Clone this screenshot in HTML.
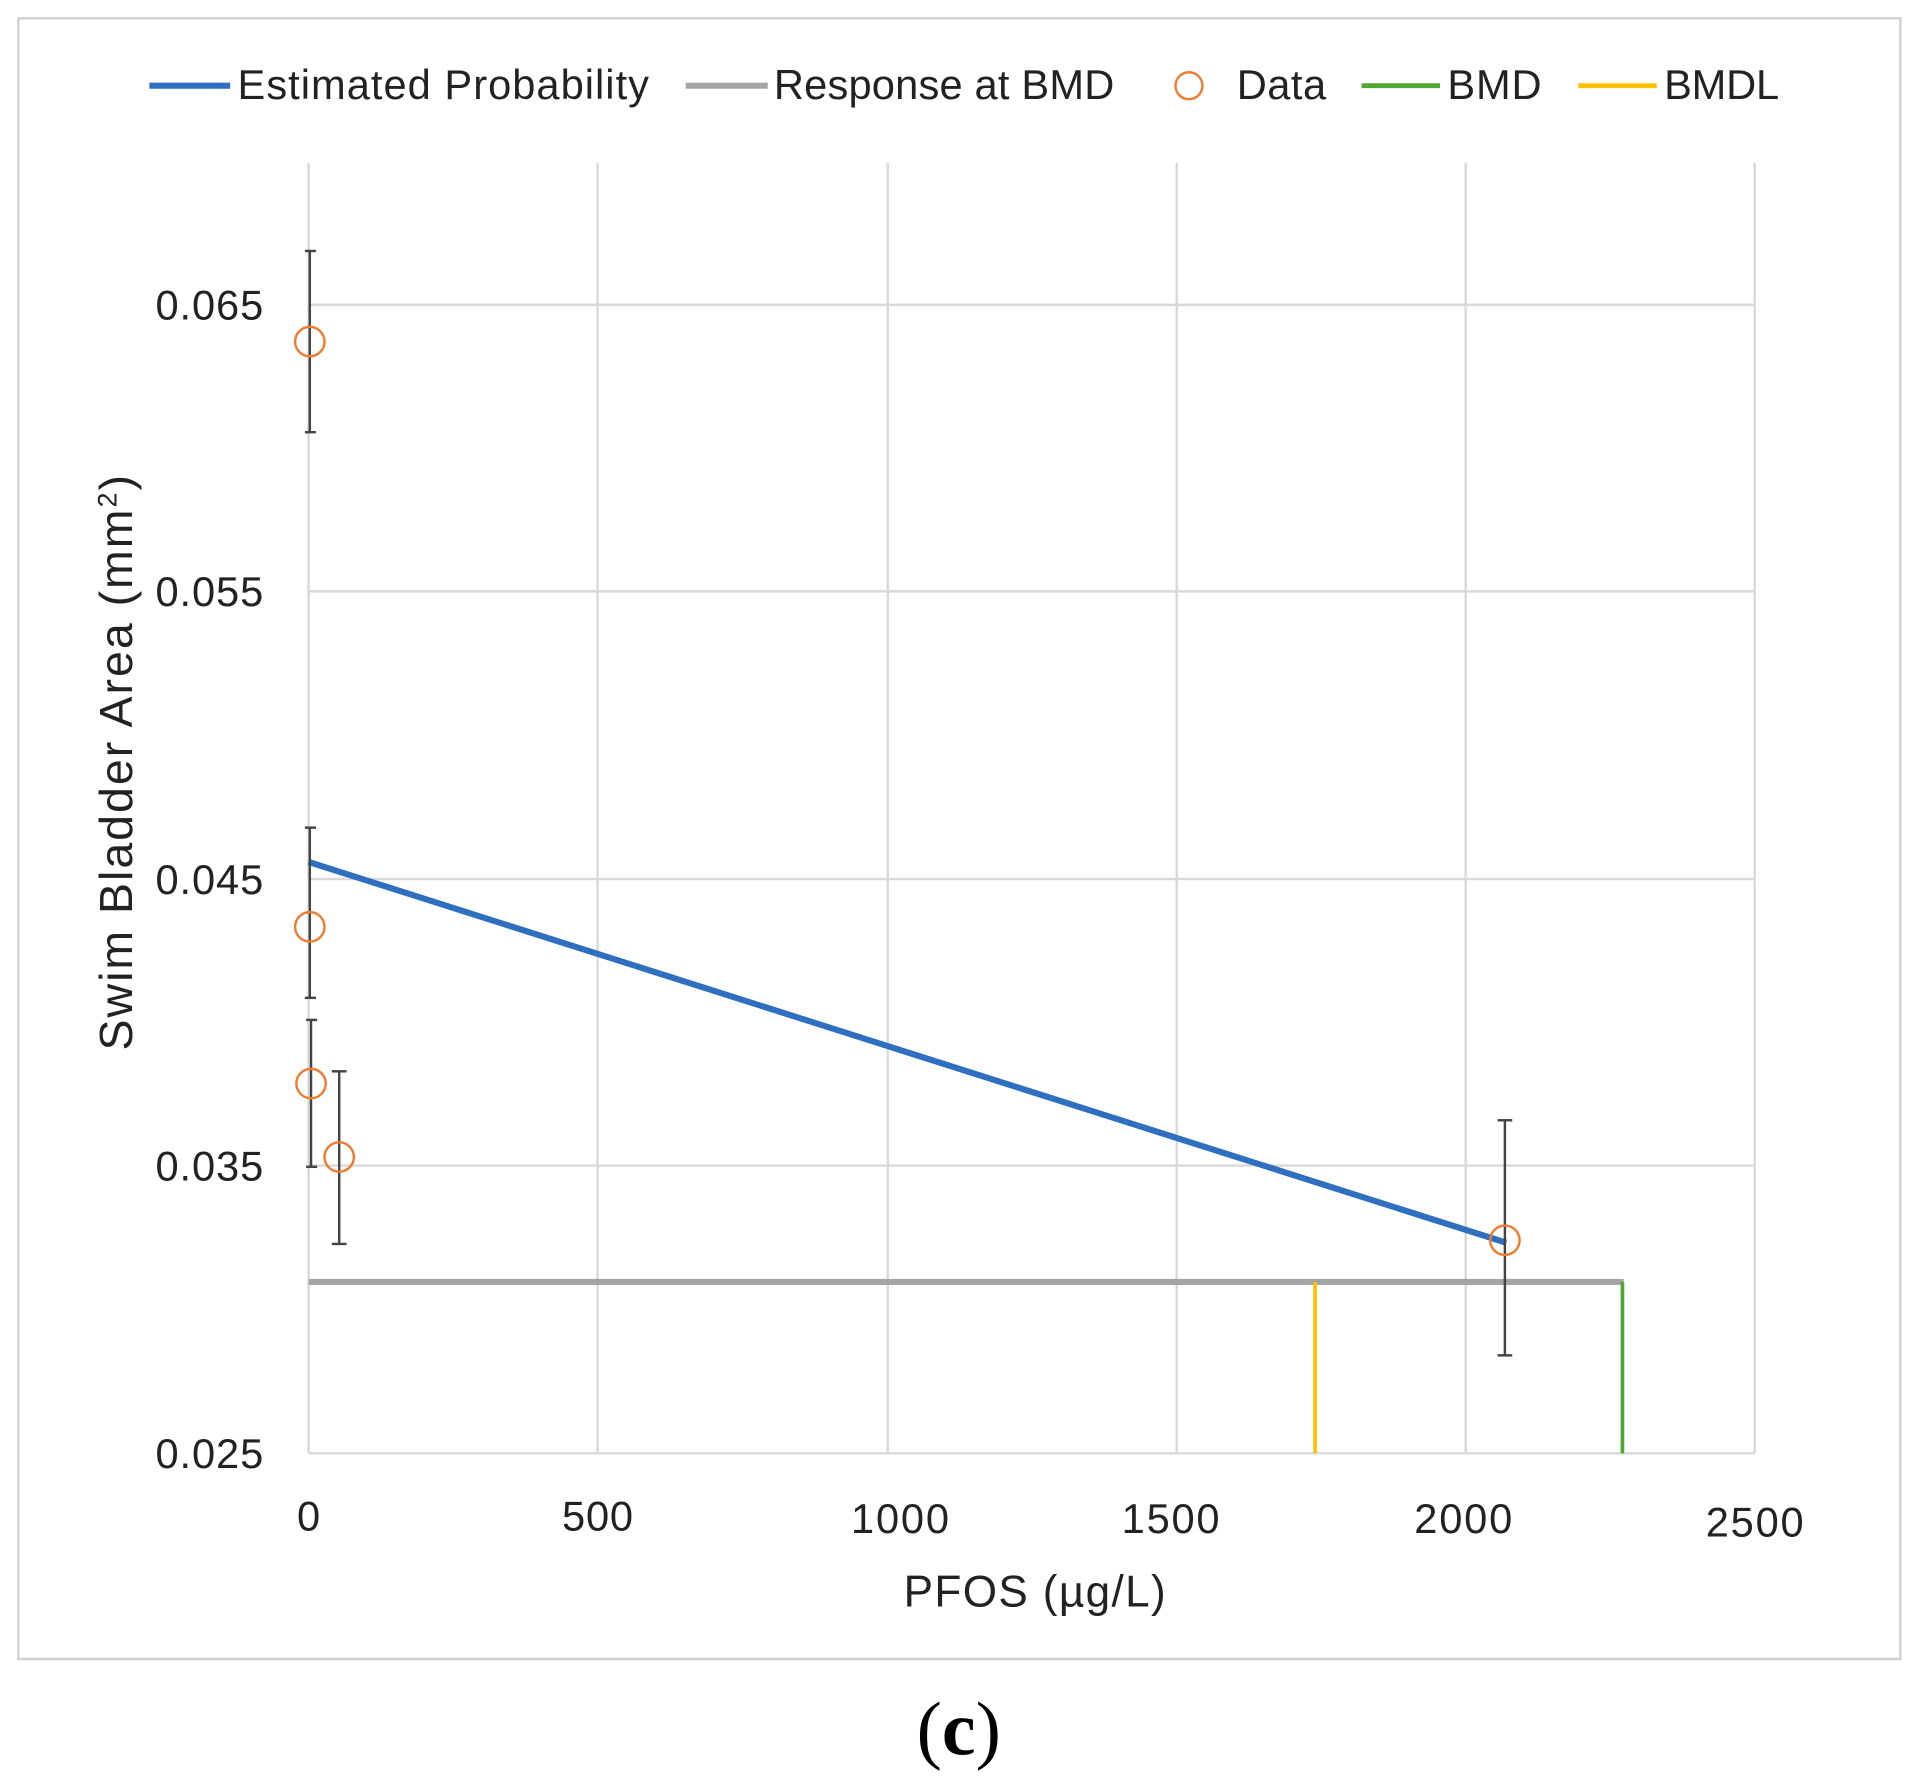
<!DOCTYPE html>
<html><head><meta charset="utf-8"><style>html,body{margin:0;padding:0;background:#fff}svg{display:block}</style></head>
<body>
<svg width="1920" height="1790" viewBox="0 0 1568 1462" preserveAspectRatio="none" xmlns="http://www.w3.org/2000/svg" font-family="Liberation Sans, DejaVu Sans, sans-serif">
<rect x="15" y="15" width="1537" height="1340" fill="#fff" stroke="#d0d0d0" stroke-width="2"/>
<g stroke="#d9d9d9" stroke-width="2">
<line x1="252" y1="249" x2="1433" y2="249"/>
<line x1="252" y1="483" x2="1433" y2="483"/>
<line x1="252" y1="718" x2="1433" y2="718"/>
<line x1="252" y1="952" x2="1433" y2="952"/>
<line x1="252" y1="1187" x2="1433" y2="1187"/>
<line x1="252" y1="133" x2="252" y2="1187"/>
<line x1="488" y1="133" x2="488" y2="1187"/>
<line x1="725" y1="133" x2="725" y2="1187"/>
<line x1="961" y1="133" x2="961" y2="1187"/>
<line x1="1197" y1="133" x2="1197" y2="1187"/>
<line x1="1433" y1="133" x2="1433" y2="1187"/>
</g>
<g font-size="34" fill="#222" text-anchor="end">
<text x="215" y="261" textLength="88">0.065</text>
<text x="215" y="495" textLength="88">0.055</text>
<text x="215" y="730" textLength="88">0.045</text>
<text x="215" y="964" textLength="88">0.035</text>
<text x="215" y="1199" textLength="88">0.025</text>
</g>
<g font-size="34" fill="#222" text-anchor="middle">
<text x="252" y="1250">0</text>
<text x="488" y="1250" textLength="58">500</text>
<text x="735" y="1252" textLength="80">1000</text>
<text x="956" y="1252" textLength="80">1500</text>
<text x="1195" y="1252" textLength="80">2000</text>
<text x="1433" y="1255" textLength="80">2500</text>
<text x="845" y="1312" font-size="36" textLength="214">PFOS (µg/L)</text>
</g>
<text transform="translate(108,623) rotate(-90)" font-size="38" fill="#222" text-anchor="middle" textLength="470">Swim Bladder Area (mm<tspan font-size="22" dy="-13">2</tspan><tspan dy="13">)</tspan></text>
<line x1="252" y1="1047" x2="1326" y2="1047" stroke="#a5a5a5" stroke-width="5"/>
<line x1="1074" y1="1047" x2="1074" y2="1187" stroke="#ffc000" stroke-width="3"/>
<line x1="1325" y1="1047" x2="1325" y2="1187" stroke="#4ea72e" stroke-width="3"/>
<line x1="252" y1="704" x2="1230" y2="1015" stroke="#2e6fc0" stroke-width="5"/>
<g stroke="#444" stroke-width="2">
<line x1="253" y1="205" x2="253" y2="353"/><line x1="249" y1="205" x2="258" y2="205"/><line x1="249" y1="353" x2="258" y2="353"/>
<line x1="253" y1="676" x2="253" y2="815"/><line x1="249" y1="676" x2="258" y2="676"/><line x1="249" y1="815" x2="258" y2="815"/>
<line x1="254" y1="833" x2="254" y2="953"/><line x1="250" y1="833" x2="259" y2="833"/><line x1="250" y1="953" x2="259" y2="953"/>
<line x1="277" y1="875" x2="277" y2="1016"/><line x1="271" y1="875" x2="283" y2="875"/><line x1="271" y1="1016" x2="283" y2="1016"/>
<line x1="1229" y1="915" x2="1229" y2="1107"/><line x1="1223" y1="915" x2="1235" y2="915"/><line x1="1223" y1="1107" x2="1235" y2="1107"/>
</g>
<g fill="none" stroke="#ed7d31" stroke-width="2">
<circle cx="253" cy="279" r="12"/><circle cx="253" cy="757" r="12"/><circle cx="254" cy="885" r="12"/><circle cx="277" cy="945" r="12"/><circle cx="1229" cy="1013" r="12"/>
</g>
<g font-size="34" fill="#222">
<line x1="122" y1="70" x2="188" y2="70" stroke="#2e6fc0" stroke-width="5"/>
<text x="194" y="81" textLength="336">Estimated Probability</text>
<line x1="560" y1="70" x2="627" y2="70" stroke="#a5a5a5" stroke-width="5"/>
<text x="632" y="81" textLength="278">Response at BMD</text>
<circle cx="971" cy="70" r="11" fill="none" stroke="#ed7d31" stroke-width="2"/>
<text x="1010" y="81" textLength="73">Data</text>
<line x1="1112" y1="70" x2="1176" y2="70" stroke="#4ea72e" stroke-width="4"/>
<text x="1182" y="81" textLength="77">BMD</text>
<line x1="1289" y1="70" x2="1353" y2="70" stroke="#ffc000" stroke-width="4"/>
<text x="1359" y="81" textLength="94">BMDL</text>
</g>
<text x="783" y="1433" font-family="Liberation Serif, serif" font-size="62" text-anchor="middle" fill="#000">(<tspan font-weight="bold">c</tspan>)</text>
</svg>
</body></html>
